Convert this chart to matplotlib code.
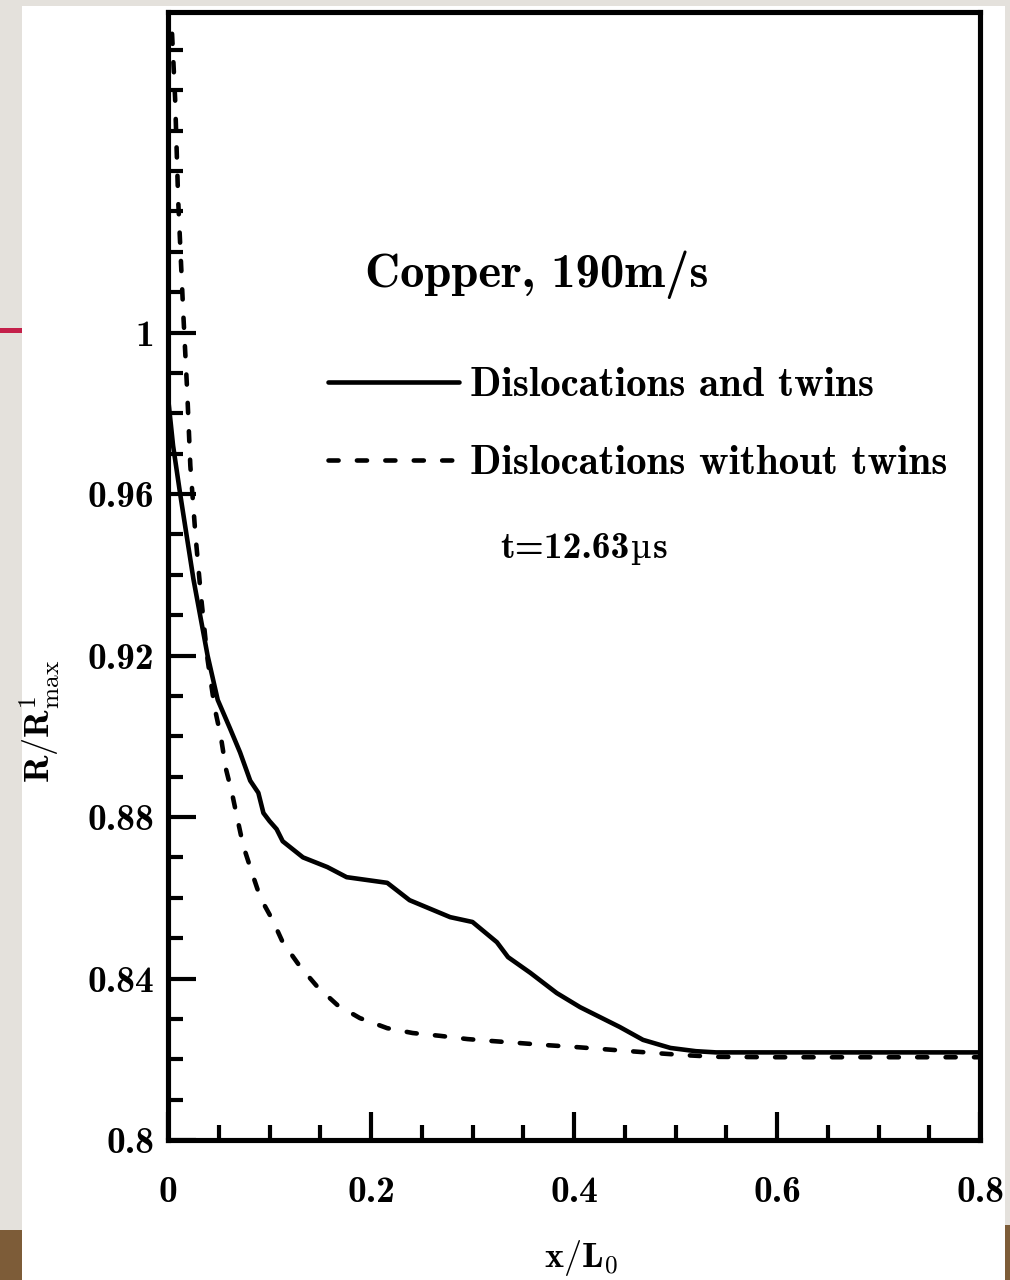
import matplotlib
matplotlib.use("Agg")
import matplotlib.pyplot as plt
from matplotlib.patches import Rectangle
from matplotlib.ticker import MultipleLocator, FixedLocator, FixedFormatter
from matplotlib.offsetbox import TextArea, HPacker, AnnotationBbox

plt.rcParams['mathtext.fontset'] = 'cm'
plt.rcParams['axes.unicode_minus'] = False

# ---- data ----
x_twins = [0.0, 0.005, 0.012, 0.025, 0.039, 0.049, 0.061, 0.071, 0.081, 0.089,
           0.094, 0.100, 0.107, 0.113, 0.133, 0.157, 0.176, 0.216, 0.238, 0.278,
           0.300, 0.324, 0.335, 0.357, 0.383, 0.406, 0.445, 0.468, 0.495, 0.52,
           0.54, 0.60, 0.70, 0.80]
y_twins = [0.984, 0.972, 0.960, 0.939, 0.920, 0.909, 0.902, 0.896, 0.889, 0.886,
           0.881, 0.879, 0.877, 0.874, 0.870, 0.8676, 0.8651, 0.8637, 0.8594, 0.8552,
           0.8540, 0.8490, 0.8453, 0.8414, 0.8364, 0.8329, 0.8280, 0.8248, 0.8228, 0.8220,
           0.8217, 0.8217, 0.8217, 0.8217]

x_notwins = [0.004, 0.007, 0.010, 0.015, 0.019, 0.022, 0.027, 0.032, 0.039, 0.046,
             0.052, 0.057, 0.063, 0.068, 0.074, 0.083, 0.091, 0.103, 0.113, 0.130,
             0.147, 0.167, 0.189, 0.216, 0.241, 0.268, 0.295, 0.320, 0.347, 0.373,
             0.403, 0.429, 0.455, 0.482, 0.51, 0.54, 0.60, 0.70, 0.80]
y_notwins = [1.074, 1.058, 1.033, 1.005, 0.985, 0.967, 0.950, 0.936, 0.919, 0.907,
             0.900, 0.892, 0.886, 0.880, 0.873, 0.866, 0.860, 0.8545, 0.849, 0.843,
             0.838, 0.8334, 0.8302, 0.8277, 0.8265, 0.8258, 0.8250, 0.8245, 0.8240, 0.8235,
             0.8230, 0.8225, 0.8220, 0.8215, 0.8210, 0.8206, 0.8205, 0.8205, 0.8205]

series_labels = ["Dislocations and twins", "Dislocations without twins"]
x_ticks = [0, 0.2, 0.4, 0.6, 0.8]
x_ticklabels = ["0", "0.2", "0.4", "0.6", "0.8"]
y_ticks = [0.8, 0.84, 0.88, 0.92, 0.96, 1.0]
y_ticklabels = ["0.8", "0.84", "0.88", "0.92", "0.96", "1"]
title_text = "Copper, 190m/s"
time_parts = ["t=12.63", "\u00b5", "s"]

FONT = ['cmb10', 'DejaVu Serif']

fig = plt.figure(figsize=(10.1, 12.8), dpi=100, facecolor='#e4e1dc')
# slide background decoration
for (x0, y0, w, h, c) in [(22/1010, 0, (1005-22)/1010, 1-6/1280, 'white'),
                          (0, 1-333/1280, 22/1010, 5/1280, '#c4204a'),
                          (0, 0, 22/1010, 50/1280, '#7d5c38'),
                          (1005/1010, 0, 5/1010, 55/1280, '#7d5c38')]:
    r = Rectangle((x0, y0), w, h, transform=fig.transFigure, facecolor=c,
                  edgecolor='none', zorder=-10)
    fig.add_artist(r)

ax = fig.add_axes([168/1010, 1-1140/1280, (980-168)/1010, (1140-12)/1280])
ax.set_facecolor('none')
ax.set_zorder(5)

lw = 3.3
ax.plot(x_twins, y_twins, color='black', lw=lw, solid_capstyle='round',
        label=series_labels[0])
ax.plot(x_notwins, y_notwins, color='black', lw=lw, linestyle=(0, (2.2, 4.0)),
        dash_capstyle='round', label=series_labels[1])

ax.set_xlim(0, 0.8)
ax.set_ylim(0.8, 1.0794)

ax.xaxis.set_major_locator(FixedLocator(x_ticks))
ax.xaxis.set_major_formatter(FixedFormatter(x_ticklabels))
ax.xaxis.set_minor_locator(MultipleLocator(0.05))
ax.yaxis.set_major_locator(FixedLocator(y_ticks))
ax.yaxis.set_major_formatter(FixedFormatter(y_ticklabels))
ax.yaxis.set_minor_locator(MultipleLocator(0.01))

ax.tick_params(which='both', direction='in', top=False, right=False, width=3, color='black')
ax.tick_params(which='major', length=20)
ax.tick_params(which='minor', length=10.5)
ax.tick_params(axis='y', which='major', pad=10, labelsize=27)
ax.tick_params(axis='x', which='major', pad=26, labelsize=27)
for lab in ax.get_xticklabels() + ax.get_yticklabels():
    lab.set_family(FONT)

for sp in ax.spines.values():
    sp.set_linewidth(3.7)

ax.set_xlabel(r'$\mathbf{x/L_0}$', fontsize=26)
ax.xaxis.set_label_coords(0.509, -0.087)
ax.set_ylabel(r'$\mathbf{R/R}^{\mathbf{1}}_{\mathrm{max}}$', fontsize=26)
ax.yaxis.set_label_coords(-0.131, 0.371)

ax.text(0.194, 1.0113, title_text, family=FONT, fontsize=35, va='baseline', ha='left')

tareas = [TextArea(time_parts[0], textprops=dict(family=FONT, size=27)),
          TextArea(time_parts[1], textprops=dict(family='DejaVu Serif', size=23)),
          TextArea(time_parts[2], textprops=dict(family=FONT, size=27))]
tbox = HPacker(children=tareas, align='baseline', pad=0, sep=1)
ab = AnnotationBbox(tbox, (0.327, 0.9466), xycoords='data', box_alignment=(0, 0.5),
                    frameon=False, pad=0)
ax.add_artist(ab)

leg = ax.legend(loc='upper left', bbox_to_anchor=(0.197, 0.685), frameon=False,
                handlelength=3.2, handletextpad=0.27, labelspacing=1.0,
                borderpad=0, borderaxespad=0, prop={'family': FONT, 'size': 29.5})

fig.savefig('out.png', dpi=100, facecolor=fig.get_facecolor())
